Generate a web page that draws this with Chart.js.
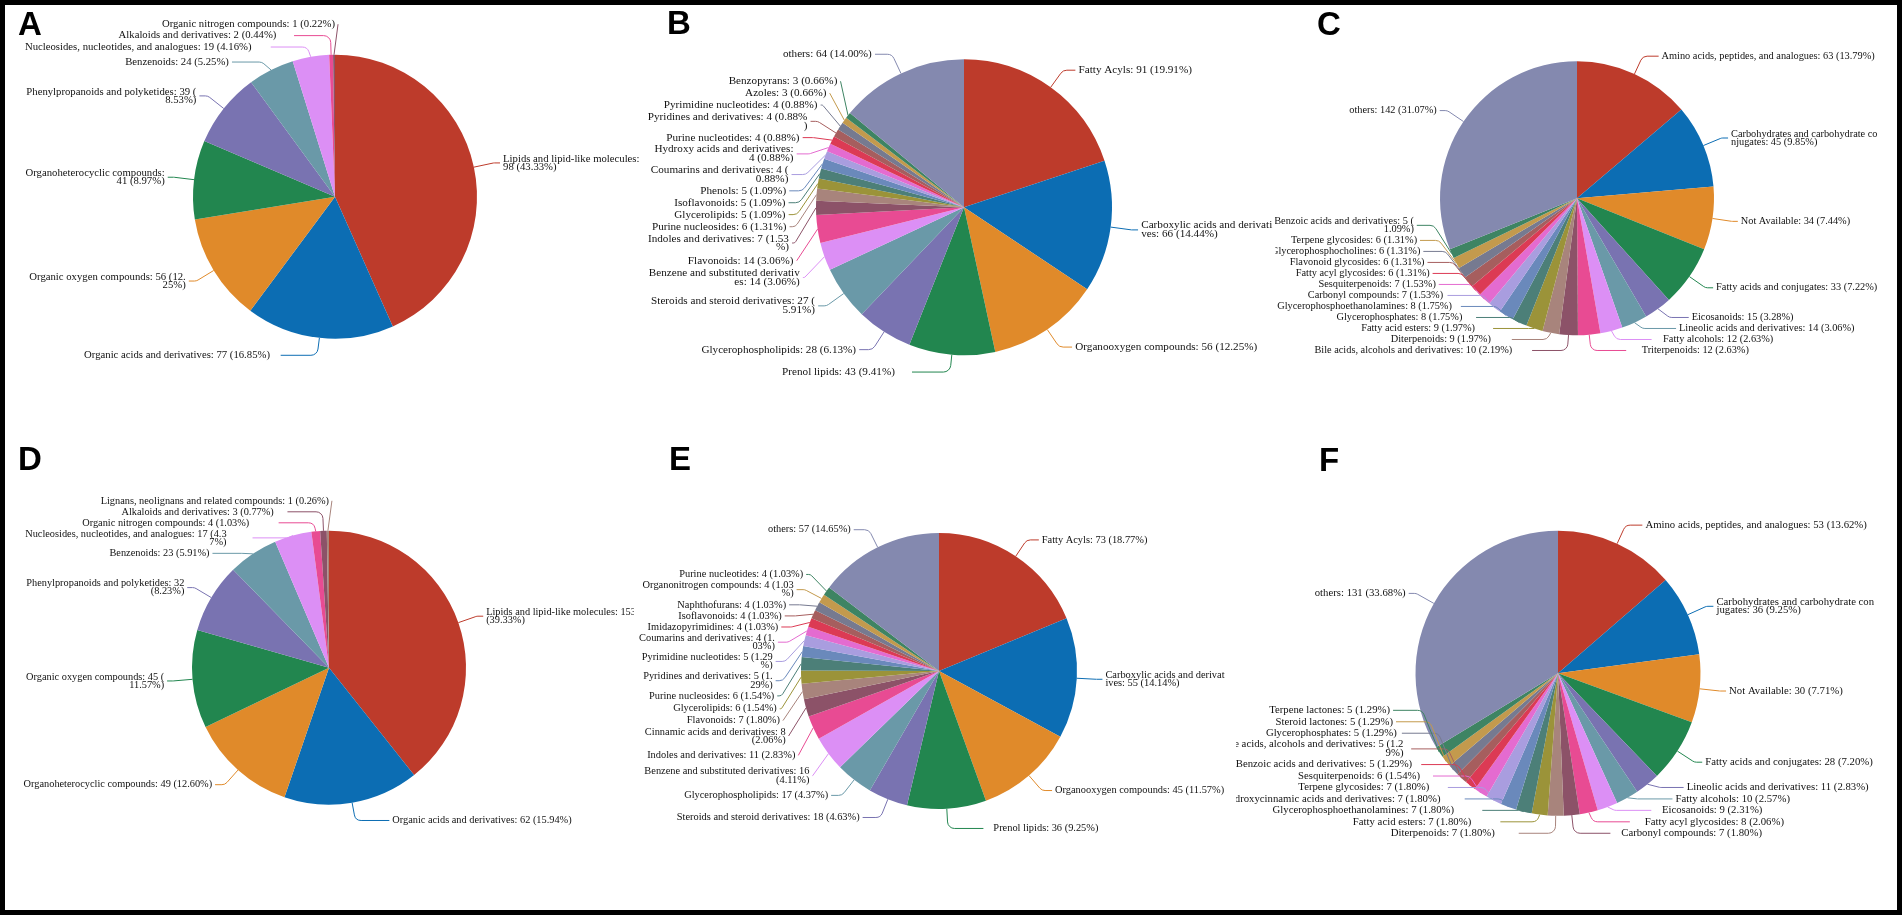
<!DOCTYPE html>
<html>
<head>
<meta charset="utf-8">
<title>Metabolite class composition</title>
<script src="https://cdn.jsdelivr.net/npm/chart.js@4.4.1/dist/chart.umd.min.js"></script>
<style>
  html, body { margin: 0; padding: 0; background: #fff; }
  #frame { position: relative; width: 1902px; height: 915px; overflow: hidden; background: #fff; }
  #frame canvas { position: absolute; background: #fff; }
  #edge { position: absolute; left: 0; top: 0; width: 1902px; height: 915px; box-sizing: border-box; border: 5px solid #000; z-index: 20; }
  .tag { position: absolute; font: bold 33px "Liberation Sans", Arial, sans-serif; line-height: 33px; color: #000; z-index: 10; }
</style>
</head>
<body>
<div id="frame"><div id="edge"></div></div>
<script>
// slice colours, same order for every panel; the last one is "others"
const palette = [
  '#bd3b2b', '#0c6db3', '#e08a2a', '#22864f', '#7973b1', '#6a99a8', '#dc8ff5',
  '#e84b93', '#8c5268', '#a8847c', '#9b9339', '#4c7f78', '#6a89bb', '#a99ddf',
  '#e46bd0', '#dc3a54', '#a65e5e', '#767a90', '#c39a4d', '#3e8463', '#8489af',
];

const labelsA = ['Lipids and lipid-like molecules', 'Organic acids and derivatives', 'Organic oxygen compounds',
  'Organoheterocyclic compounds', 'Phenylpropanoids and polyketides', 'Benzenoids',
  'Nucleosides, nucleotides, and analogues', 'Alkaloids and derivatives', 'Organic nitrogen compounds'];
const valuesA = [198, 77, 56, 41, 39, 24, 19, 2, 1];

const labelsB = ['Fatty Acyls', 'Carboxylic acids and derivatives', 'Organooxygen compounds', 'Prenol lipids',
  'Glycerophospholipids', 'Steroids and steroid derivatives', 'Benzene and substituted derivatives', 'Flavonoids',
  'Indoles and derivatives', 'Purine nucleosides', 'Glycerolipids', 'Isoflavonoids', 'Phenols',
  'Coumarins and derivatives', 'Hydroxy acids and derivatives', 'Purine nucleotides', 'Pyridines and derivatives',
  'Pyrimidine nucleotides', 'Azoles', 'Benzopyrans', 'others'];
const valuesB = [91, 66, 56, 43, 28, 27, 14, 14, 7, 6, 5, 5, 5, 4, 4, 4, 4, 4, 3, 3, 64];

const labelsC = ['Amino acids, peptides, and analogues', 'Carbohydrates and carbohydrate conjugates', 'Not Available',
  'Fatty acids and conjugates', 'Eicosanoids', 'Lineolic acids and derivatives', 'Fatty alcohols', 'Triterpenoids',
  'Bile acids, alcohols and derivatives', 'Diterpenoids', 'Fatty acid esters', 'Glycerophosphates',
  'Glycerophosphoethanolamines', 'Carbonyl compounds', 'Sesquiterpenoids', 'Fatty acyl glycosides',
  'Flavonoid glycosides', 'Glycerophosphocholines', 'Terpene glycosides', 'Benzoic acids and derivatives', 'others'];
const valuesC = [63, 45, 34, 33, 15, 14, 12, 12, 10, 9, 9, 8, 8, 7, 7, 6, 6, 6, 6, 5, 142];

const labelsD = ['Lipids and lipid-like molecules', 'Organic acids and derivatives', 'Organoheterocyclic compounds',
  'Organic oxygen compounds', 'Phenylpropanoids and polyketides', 'Benzenoids',
  'Nucleosides, nucleotides, and analogues', 'Organic nitrogen compounds', 'Alkaloids and derivatives',
  'Lignans, neolignans and related compounds'];
const valuesD = [153, 62, 49, 45, 32, 23, 17, 4, 3, 1];

const labelsE = ['Fatty Acyls', 'Carboxylic acids and derivatives', 'Organooxygen compounds', 'Prenol lipids',
  'Steroids and steroid derivatives', 'Glycerophospholipids', 'Benzene and substituted derivatives',
  'Indoles and derivatives', 'Cinnamic acids and derivatives', 'Flavonoids', 'Glycerolipids', 'Purine nucleosides',
  'Pyridines and derivatives', 'Pyrimidine nucleotides', 'Coumarins and derivatives', 'Imidazopyrimidines',
  'Isoflavonoids', 'Naphthofurans', 'Organonitrogen compounds', 'Purine nucleotides', 'others'];
const valuesE = [73, 55, 45, 36, 18, 17, 16, 11, 8, 7, 6, 6, 5, 5, 4, 4, 4, 4, 4, 4, 57];

const labelsF = ['Amino acids, peptides, and analogues', 'Carbohydrates and carbohydrate conjugates', 'Not Available',
  'Fatty acids and conjugates', 'Lineolic acids and derivatives', 'Fatty alcohols', 'Eicosanoids',
  'Fatty acyl glycosides', 'Carbonyl compounds', 'Diterpenoids', 'Fatty acid esters', 'Glycerophosphoethanolamines',
  'Hydroxycinnamic acids and derivatives', 'Terpene glycosides', 'Sesquiterpenoids', 'Benzoic acids and derivatives',
  'Bile acids, alcohols and derivatives', 'Glycerophosphates', 'Steroid lactones', 'Terpene lactones', 'others'];
const valuesF = [53, 36, 30, 28, 11, 10, 9, 8, 7, 7, 7, 7, 7, 7, 6, 5, 5, 5, 5, 5, 131];

// box = canvas rect, wrap = text limits left/right, fence = label limits top/bottom (page px)
const panels = [
  { tag: 'A', labels: labelsA, values: valuesA, box: [15, 5, 625, 435], center: [335, 196.7], radius: 142,
    wrap: [24, 652], fence: [14, 361], tagAt: [18, 7] },
  { tag: 'B', labels: labelsB, values: valuesB, box: [640, 5, 635, 435], center: [964, 207.3], radius: 148,
    wrap: [647, 1273], fence: [14, 378], tagAt: [667, 6] },
  { tag: 'C', labels: labelsC, values: valuesC, box: [1275, 5, 622, 435], center: [1577, 198.3], radius: 137,
    wrap: [1270, 1879], fence: [14, 356], tagAt: [1317, 7] },
  { tag: 'D', labels: labelsD, values: valuesD, box: [5, 440, 629, 470], center: [329, 667.7], radius: 137,
    wrap: [22, 640], fence: [450, 826], tagAt: [18, 442] },
  { tag: 'E', labels: labelsE, values: valuesE, box: [634, 440, 602, 470], center: [939, 671], radius: 138,
    wrap: [639, 1226], fence: [450, 842.5], tagAt: [669, 442] },
  { tag: 'F', labels: labelsF, values: valuesF, box: [1236, 440, 661, 470], center: [1558, 673.3], radius: 142.5,
    wrap: [1221, 1875], fence: [450, 839], tagAt: [1319, 443] },
];

const wrapText = (ctx, text, room) => {
  if (room < 30 || ctx.measureText(text).width <= room) return [text];
  const lines = [];
  let cur = '';
  for (const ch of text) {
    if (cur && ctx.measureText(cur + ch).width > room) {
      lines.push(cur.trim());
      cur = ch;
    } else {
      cur += ch;
    }
  }
  if (cur.trim()) lines.push(cur.trim());
  return lines;
};

// cascade label boxes down (with the half step back up that leaves small gaps),
// then pack them up from the bottom fence and down from the top fence
const spread = (list, top, bottom) => {
  list.sort((a, b) => a.y - b.y);
  const len = list.length;
  list.forEach((it) => { it.t = it.y - it.h / 2; });
  const shiftUp = (end, delta) => {
    for (let j = end; j >= 0; j--) {
      if (list[j].t - delta < top) break;
      list[j].t -= delta;
      if (j > 0 && list[j].t > list[j - 1].t + list[j - 1].h) break;
    }
  };
  const shiftDown = (start, delta) => {
    for (let j = start; j < len; j++) {
      list[j].t += delta;
      if (j > start && j + 1 < len && list[j + 1].t > list[j].t + list[j].h) {
        shiftUp(j, delta / 2);
        return;
      }
    }
    shiftUp(len - 1, delta / 2);
  };
  let lastY = -Infinity;
  for (let i = 0; i < len; i++) {
    const delta = list[i].t - lastY;
    if (delta < 0) shiftDown(i, -delta);
    lastY = list[i].t + list[i].h;
  }
  // tidy: no overlap, inside the fences
  let limit = bottom;
  for (let i = len - 1; i >= 0; i--) {
    const it = list[i];
    if (i > 0) limit = Math.min(limit, Math.max(it.t + it.h, list[i - 1].t + list[i - 1].h + it.h));
    if (it.t + it.h > limit) it.t = limit - it.h;
    limit = it.t;
  }
  limit = top;
  list.forEach((it) => {
    if (it.t < limit) it.t = limit;
    limit = it.t + it.h;
  });
  list.forEach((it) => { it.y = it.t + it.h / 2; });
};

const leaderLabels = {
  id: 'leaderLabels',
  afterDraw(chart, args, opts) {
    const ctx = chart.ctx;
    const arcs = chart.getDatasetMeta(0).data;
    const values = chart.data.datasets[0].data;
    const colors = chart.data.datasets[0].backgroundColor;
    const total = values.reduce((a, b) => a + b, 0);
    const r = arcs[0].outerRadius;
    const cx = arcs[0].x;
    const cy = arcs[0].y;
    const k = r / 140;
    const fontSize = 10.56 * k;
    const rowH = 11.25 * k;
    const lineGap = 8.3 * k;
    const len1 = 20 * k;
    const len2 = 36 * k;
    const gap = 3 * k;
    const textR = r + 29 * k;

    ctx.save();
    ctx.font = fontSize + 'px "Liberation Serif", "Times New Roman", serif';

    const items = arcs.map((arc, i) => {
      const mid = (arc.startAngle + arc.endAngle) / 2;
      const ux = Math.cos(mid);
      const uy = Math.sin(mid);
      const pct = (values[i] / total * 100).toFixed(2);
      const home = cy + (r + len1) * uy;
      return {
        i, ux, uy, home,
        dir: ux < 0 ? -1 : 1,
        text: `${chart.data.labels[i]}: ${values[i]} (${pct}%)`,
        y: home,
      };
    });

    const place = (it) => {
      const dy = it.y - cy;
      it.x = cx + it.dir * Math.sqrt(Math.max(textR * textR - dy * dy, 0));
      const room = it.dir < 0 ? it.x - opts.wrap[0] : opts.wrap[1] - it.x;
      it.lines = wrapText(ctx, it.text, room);
    };

    // wrapping depends on the final height and vice versa: settle it in a few passes
    items.forEach(place);
    for (let pass = 0; pass < 4; pass++) {
      items.forEach((it) => {
        it.h = Math.max(it.h || 0, rowH + (it.lines.length - 1) * lineGap);
        it.y = it.home;
      });
      [-1, 1].forEach((side) => spread(items.filter((it) => it.dir === side), opts.fence[0], opts.fence[1]));
      items.forEach(place);
      if (items.every((it) => rowH + (it.lines.length - 1) * lineGap <= it.h + 0.01)) break;
    }

    ctx.lineWidth = 1;
    items.forEach((it) => {
      const x0 = cx + r * it.ux;
      const y0 = cy + r * it.uy;
      const end = it.x - it.dir * gap;
      let x1 = cx + (r + len1) * it.ux;
      let x2 = x1 + it.dir * len2;
      if ((x2 - end) * it.dir > 0) x2 = end;
      if ((x1 - x2) * it.dir > 0) x1 = x2;
      const bend = Math.min(7 * k, Math.abs(x2 - x1), Math.hypot(x1 - x0, it.y - y0));
      ctx.strokeStyle = colors[it.i];
      ctx.beginPath();
      ctx.moveTo(x0, y0);
      if (bend > 0.5) ctx.arcTo(x1, it.y, x2, it.y, bend);
      else ctx.lineTo(x1, it.y);
      ctx.lineTo(x2, it.y);
      ctx.stroke();
    });

    ctx.fillStyle = '#111';
    ctx.textBaseline = 'middle';
    items.forEach((it) => {
      ctx.textAlign = it.dir < 0 ? 'right' : 'left';
      const y0 = it.y - (it.lines.length - 1) * lineGap / 2;
      it.lines.forEach((line, j) => ctx.fillText(line, it.x, y0 + j * lineGap));
    });
    ctx.restore();
  },
};

const frame = document.getElementById('frame');

panels.forEach((p) => {
  const [bx, by, bw, bh] = p.box;
  const [cx, cy] = p.center;
  const r = p.radius;
  const canvas = document.createElement('canvas');
  canvas.width = bw;
  canvas.height = bh;
  canvas.style.left = bx + 'px';
  canvas.style.top = by + 'px';
  frame.appendChild(canvas);

  new Chart(canvas, {
    type: 'pie',
    data: {
      labels: p.labels,
      datasets: [{
        data: p.values,
        backgroundColor: palette.slice(0, p.values.length),
        borderWidth: 0,
        hoverOffset: 0,
        offset: 0,
      }],
    },
    options: {
      responsive: false,
      animation: false,
      devicePixelRatio: 1,
      events: [],
      layout: {
        padding: {
          left: cx - bx - r,
          top: cy - by - r,
          right: bx + bw - cx - r,
          bottom: by + bh - cy - r,
        },
      },
      plugins: {
        legend: { display: false },
        tooltip: { enabled: false },
        leaderLabels: {
          wrap: [p.wrap[0] - bx, p.wrap[1] - bx],
          fence: [p.fence[0] - by, p.fence[1] - by],
        },
      },
    },
    plugins: [leaderLabels],
  });

  const tag = document.createElement('div');
  tag.className = 'tag';
  tag.textContent = p.tag;
  tag.style.left = p.tagAt[0] + 'px';
  tag.style.top = p.tagAt[1] + 'px';
  frame.appendChild(tag);
});
</script>
</body>
</html>
